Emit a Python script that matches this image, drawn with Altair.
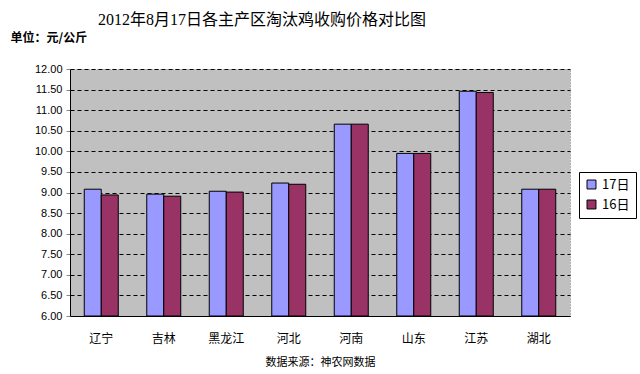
import altair as alt
import pandas as pd

provinces = ["辽宁", "吉林", "黑龙江", "河北", "河南", "山东", "江苏", "湖北"]
v17 = [9.08, 8.96, 9.03, 9.23, 10.66, 9.95, 11.46, 9.08]
v16 = [8.94, 8.91, 9.01, 9.20, 10.66, 9.95, 11.43, 9.08]
series = ["17日", "16日"]

rows = []
for p, a, b in zip(provinces, v17, v16):
    rows.append({"省份": p, "日期": series[0], "价格": a})
    rows.append({"省份": p, "日期": series[1], "价格": b})
df = pd.DataFrame(rows)

cjk = "Noto Sans CJK SC"

chart = alt.Chart(df).mark_bar(stroke="black", strokeWidth=1).encode(
    x=alt.X("省份:N", sort=provinces,
            scale=alt.Scale(paddingInner=0.456, paddingOuter=0.228),
            axis=alt.Axis(title="数据来源：神农网数据", labelAngle=0, ticks=False,
                          labelPadding=17, labelFontSize=12, labelFont=cjk,
                          labelColor="black", titleFont=cjk, titleFontSize=11,
                          titleFontWeight="normal", titlePadding=12, titleColor="black",
                          domainColor="black", domainWidth=1, grid=False)),
    xOffset=alt.XOffset("日期:N", sort=series),
    y=alt.Y("价格:Q", scale=alt.Scale(domain=[6, 12], nice=False, zero=False),
            axis=alt.Axis(values=[6 + 0.5 * i for i in range(13)], format=".2f",
                          title="单位：元/公斤", titleAngle=0, titleAlign="left",
                          titleBaseline="middle", titleX=-60, titleY=-32,
                          titleFont=cjk, titleFontSize=12, titleFontWeight="bold",
                          titleColor="black", labelFont="Liberation Sans",
                          labelFontSize=11, labelColor="black", labelPadding=4,
                          tickSize=4, tickColor="#888888", domainColor="black",
                          grid=True, gridColor="black", gridDash=[4, 3],
                          gridWidth=1)),
    y2=alt.Y2(datum=6),
    color=alt.Color("日期:N", sort=series,
                    scale=alt.Scale(domain=series, range=["#9999FF", "#993366"]),
                    legend=alt.Legend(title=None, orient="none", legendX=509,
                                      legendY=103, strokeColor="black",
                                      fillColor="white", padding=6,
                                      symbolType="square", symbolSize=80,
                                      symbolStrokeColor="black",
                                      symbolStrokeWidth=1, labelFont=cjk,
                                      labelFontSize=13, labelColor="black",
                                      rowPadding=6)),
).properties(
    width=500, height=247,
    title=alt.TitleParams("2012年8月17日各主产区淘汰鸡收购价格对比图",
                          font="Liberation Serif, Noto Sans CJK SC",
                          fontSize=16, fontWeight="normal", color="black",
                          anchor="start", dx=88, offset=3),
    autosize=alt.AutoSizeParams(type="none"),
    padding={"left": 70, "top": 69, "right": 70, "bottom": 58},
    background="white",
).configure_view(
    fill="#C0C0C0", stroke="#808080", strokeDash=[1, 2], strokeWidth=1
)

chart.save("out.html", embed_options={"renderer": "svg", "actions": False})
